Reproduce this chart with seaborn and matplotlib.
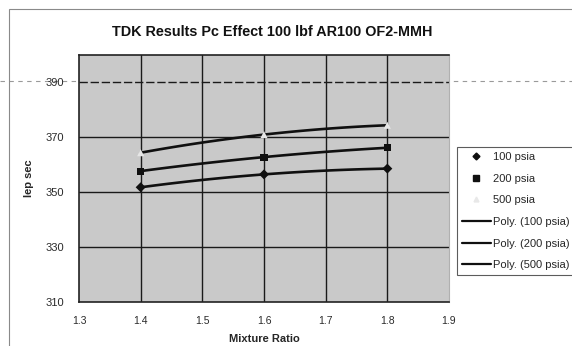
import numpy as np
import pandas as pd
import matplotlib
matplotlib.use("Agg")
import matplotlib.pyplot as plt
from matplotlib.lines import Line2D
import seaborn as sns

# Mixture ratio sweep and specific impulse for each chamber pressure
mixture_ratio = [1.4, 1.6, 1.8]
isp_100 = [351.8, 356.5, 358.6]
isp_200 = [357.7, 362.8, 366.2]
isp_500 = [364.4, 371.0, 374.4]
series_names = ["100 psia", "200 psia", "500 psia"]
x_ticks = [1.3, 1.4, 1.5, 1.6, 1.7, 1.8, 1.9]
y_ticks = [310, 330, 350, 370, 390]

sns.set_theme(style="white")
plt.rcParams["font.family"] = ["Liberation Sans", "DejaVu Sans"]

points = pd.DataFrame({
    "MR": mixture_ratio * 3,
    "Isp": isp_100 + isp_200 + isp_500,
    "series": np.repeat(series_names, len(mixture_ratio)),
})

# second-order trendline per series
fit_rows = []
xs = np.linspace(min(mixture_ratio), max(mixture_ratio), 60)
for name, ys in zip(series_names, [isp_100, isp_200, isp_500]):
    coeffs = np.polyfit(mixture_ratio, ys, 2)
    for xv in xs:
        fit_rows.append({"MR": xv, "Isp": np.polyval(coeffs, xv),
                         "series": f"Poly. ({name})"})
fits = pd.DataFrame(fit_rows)

fig = plt.figure(figsize=(5.72, 3.46), dpi=100)
fig.patch.set_facecolor("white")

# chart area border
fig.add_artist(plt.Rectangle((9 / 572, -0.1), 1.2, 1 - 9 / 346 + 0.1,
                             transform=fig.transFigure, fill=False,
                             edgecolor="#8a8a8a", lw=0.8))

ax = fig.add_axes([79 / 572, 1 - 302 / 346, 370 / 572, 247 / 346])
ax.set_facecolor("#c9c9c9")

for x in x_ticks[1:-1]:
    ax.axvline(x, color="#1a1a1a", lw=1.0, zorder=1)
for y in y_ticks[1:]:
    ax.axhline(y, color="#1a1a1a", lw=1.0, zorder=1,
               ls=(0, (6, 2)) if y == 390 else "-")

sns.lineplot(data=fits, x="MR", y="Isp", hue="series",
             palette=["#101010"] * 3, lw=1.9, ax=ax, legend=False, zorder=3)
sns.scatterplot(data=points, x="MR", y="Isp", hue="series", style="series",
                markers={"100 psia": "D", "200 psia": "s", "500 psia": "^"},
                palette={"100 psia": "#101010", "200 psia": "#101010",
                         "500 psia": "#e6e6e6"},
                s=26, edgecolor="none", ax=ax, legend=False, zorder=4)

ax.set_xlim(1.3, 1.9)
ax.set_ylim(310, 400)
ax.set_xticks(x_ticks)
ax.set_yticks(y_ticks)
ax.set_xticklabels([f"{v:.1f}" for v in x_ticks], fontsize=7.5)
ax.set_yticklabels([str(v) for v in y_ticks], fontsize=8)
ax.tick_params(axis="both", length=3, width=0.8, color="#333333",
               direction="out", labelcolor="#2a2a2a")
ax.tick_params(axis="x", pad=7)
ax.tick_params(axis="y", pad=8)
ax.set_xlabel("Mixture Ratio", fontsize=8, fontweight="bold", labelpad=6)
ax.set_ylabel("Iep sec", fontsize=8, fontweight="bold", labelpad=8)
for side in ["left", "bottom", "top"]:
    ax.spines[side].set_color("#222222")
    ax.spines[side].set_linewidth(1.2)
ax.spines["right"].set_color("#b0b0b0")
ax.spines["right"].set_linewidth(0.8)

fig.suptitle("TDK Results Pc Effect 100 lbf AR100 OF2-MMH", x=0.476,
             y=1 - 32 / 346, va="center", fontsize=10.4, fontweight="bold",
             color="#111111")

# scanned page rule across the chart at the 390 level
fig.add_artist(plt.Line2D([0, 1], [1 - 81 / 346] * 2, transform=fig.transFigure,
                          color="#9a9a9a", lw=0.8, ls=(0, (4, 4)), zorder=0))

handles = [
    Line2D([], [], marker="D", ls="none", color="#101010", markersize=3.5),
    Line2D([], [], marker="s", ls="none", color="#101010", markersize=4),
    Line2D([], [], marker="^", ls="none", color="#e8e8e8", markersize=3.5),
    Line2D([], [], color="#101010", lw=1.6),
    Line2D([], [], color="#101010", lw=1.6),
    Line2D([], [], color="#101010", lw=1.6),
]
labels = series_names + [f"Poly. ({n})" for n in series_names]
leg = fig.legend(handles, labels, loc="upper left",
                 bbox_to_anchor=(457 / 572, 1 - 147 / 346), fontsize=8,
                 frameon=True, fancybox=False, borderpad=0.45,
                 labelspacing=1.05, handlelength=2.6, handletextpad=0.15,
                 borderaxespad=0)
leg.get_frame().set_edgecolor("#333333")
leg.get_frame().set_linewidth(0.8)

fig.savefig("out.png", dpi=100)
